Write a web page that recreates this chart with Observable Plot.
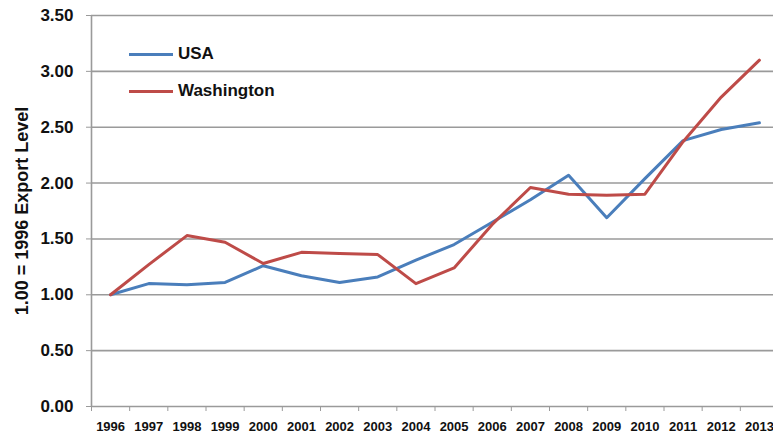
<!DOCTYPE html>
<html>
<head>
<meta charset="utf-8">
<script src="https://cdn.jsdelivr.net/npm/d3@7"></script>
<script src="https://cdn.jsdelivr.net/npm/@observablehq/plot@0.6"></script>
<style>
  html, body { margin: 0; padding: 0; background: #fff; overflow: hidden; }
  #wrap { position: relative; width: 773px; height: 435px; }
  .legend { position: absolute; left: 129px; font: bold 17px "Liberation Sans", Arial, sans-serif; color: #111; display: flex; align-items: center; }
  .legend .sw { display: inline-block; width: 44px; height: 3px; margin-right: 5px; }
</style>
</head>
<body>
<div id="wrap">
  <div class="legend" style="top:44px"><span class="sw" style="background:#4a7ebb"></span>USA</div>
  <div class="legend" style="top:81px"><span class="sw" style="background:#be4b48"></span>Washington</div>
</div>
<script>
const years = [1996,1997,1998,1999,2000,2001,2002,2003,2004,2005,2006,2007,2008,2009,2010,2011,2012,2013];
const usa = [1.00,1.10,1.09,1.11,1.26,1.17,1.11,1.16,1.31,1.45,1.65,1.85,2.07,1.69,2.04,2.38,2.48,2.54];
const washington = [1.00,1.27,1.53,1.47,1.28,1.38,1.37,1.36,1.10,1.24,1.63,1.96,1.90,1.89,1.90,2.37,2.77,3.10];
const yTicks = [0,0.5,1,1.5,2,2.5,3,3.5];
const seriesNames = ["USA","Washington"];
const colors = ["#4a7ebb","#be4b48"];

const data = [];
years.forEach((y,i) => { data.push({year:y, value:usa[i], series:"USA"}); });
years.forEach((y,i) => { data.push({year:y, value:washington[i], series:"Washington"}); });

const boundaries = d3.range(years[0]-0.5, years[years.length-1]+1, 1);
const font = "'Liberation Sans', Arial, sans-serif";

const chart = Plot.plot({
  width: 773,
  height: 435,
  marginTop: 15,
  marginBottom: 29,
  marginLeft: 91,
  marginRight: 0,
  style: {fontFamily: font, background: "transparent", overflow: "visible"},
  x: {domain: [years[0]-0.5, years[years.length-1]+0.5], range: [91, 778]},
  y: {domain: [0, 3.5]},
  color: {domain: seriesNames, range: colors},
  marks: [
    Plot.gridY(yTicks.filter(d => d > 0), {stroke: "#9a9a9a", strokeOpacity: 1, strokeWidth: 1.6}),
    Plot.ruleX([years[0]-0.5], {stroke: "#9a9a9a", strokeWidth: 1.6}),
    Plot.ruleY([0], {stroke: "#9a9a9a", strokeWidth: 1.6}),
    Plot.axisY({ticks: yTicks, tickFormat: d3.format(".2f"), tickSize: 5, tickPadding: 13, stroke: "#9a9a9a",
      fontSize: 17, fontWeight: "bold", fill: "#111", label: null}),
    Plot.axisX({ticks: boundaries, tickFormat: () => "", tickSize: 5, stroke: "#9a9a9a", label: null}),
    Plot.axisX({ticks: years, tickFormat: d => String(d), tickSize: 0, tickPadding: 15,
      fontSize: 13, fontWeight: "bold", fill: "#111", label: null}),
    Plot.text(["1.00 = 1996 Export Level"], {frameAnchor: "left", dx: -69, rotate: -90, textAnchor: "middle",
      fontSize: 18, fontWeight: "bold", fill: "#111"}),
    Plot.line(data, {x: "year", y: "value", z: "series", stroke: "series", strokeWidth: 3, strokeLinejoin: "round"})
  ]
});
document.getElementById("wrap").prepend(chart);
chart.style.position = "absolute";
chart.style.left = "0";
chart.style.top = "0";
</script>
</body>
</html>
